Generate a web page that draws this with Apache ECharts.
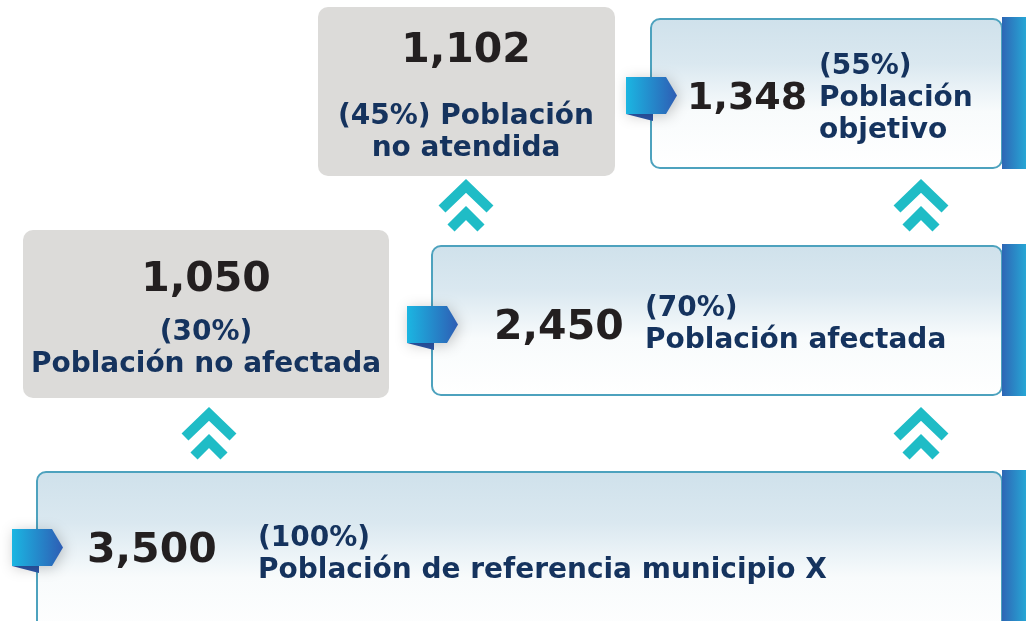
<!DOCTYPE html>
<html>
<head>
<meta charset="utf-8">
<script src="https://cdn.jsdelivr.net/npm/echarts@6/dist/echarts.min.js"></script>
<style>
  html, body { margin: 0; padding: 0; background: #fff; }
  #chart { width: 1026px; height: 621px; }
</style>
</head>
<body>
<div id="chart"></div>
<script>
// data
const groups = ["referencia", "afectada", "noAfectada", "objetivo", "noAtendida"];
const values = [3500, 2450, 1050, 1348, 1102];
const percents = [100, 70, 30, 55, 45];
const labels = [
  "Población de referencia municipio X",
  "Población afectada",
  "Población no afectada",
  "Población objetivo",
  "Población no atendida"
];

// layout for each box (same order as data)
const boxes = [
  { kind: "blue", x: 37, y: 472, w: 965, h: 170, numX: 87, numY: 548, numSize: 41, labX: 258, labY: 555,
    lines: (p, l) => `(${p}%)\n${l}` },
  { kind: "blue", x: 432, y: 246, w: 570, h: 149, numX: 494, numY: 325, numSize: 41, labX: 645, labY: 325,
    lines: (p, l) => `(${p}%)\n${l}` },
  { kind: "gray", x: 23, y: 230, w: 366, h: 168, numX: 206, numY: 277, numSize: 41, labX: 206, labY: 349,
    lines: (p, l) => `(${p}%)\n${l}` },
  { kind: "blue", x: 651, y: 19, w: 351, h: 149, numX: 687, numY: 96, numSize: 38, labX: 819, labY: 99,
    lines: (p, l) => `(${p}%)\n${l.replace(" ", "\n")}` },
  { kind: "gray", x: 318, y: 7, w: 297, h: 169, numX: 466, numY: 48, numSize: 41, labX: 466, labY: 133,
    lines: (p, l) => `(${p}%) ${l.replace(" no ", "\nno ")}` }
];
const chevrons = [[209, 407], [921, 407], [466, 179], [921, 179]];

const FONT = "'DejaVu Sans', 'Open Sans', sans-serif";
const NUM_COLOR = "#231f20";
const LAB_COLOR = "#15335e";
const TEAL = "#1fbcc6";

const fmt = v => v.toLocaleString("en-US");
const elements = [];

function numText(b, v, align) {
  return {
    type: "text",
    style: { text: fmt(v), x: b.numX, y: b.numY + 3, textAlign: align, textVerticalAlign: "middle",
      font: `bold ${b.numSize}px ${FONT}`, fill: NUM_COLOR },
    z: 5
  };
}
function labText(b, p, l, align) {
  return {
    type: "text",
    style: { text: b.lines(p, l), x: b.labX, y: b.labY, textAlign: align, textVerticalAlign: "middle",
      font: `bold 28px ${FONT}`, lineHeight: 32, fill: LAB_COLOR },
    z: 5
  };
}

boxes.forEach((b, i) => {
  if (b.kind === "blue") {
    elements.push({
      type: "rect",
      shape: { x: b.x, y: b.y, width: b.w, height: b.h, r: 9 },
      style: {
        fill: new echarts.graphic.LinearGradient(0, 0, 0, 1, [
          { offset: 0, color: "#cfe1eb" },
          { offset: 0.3, color: "#dae8f0" },
          { offset: 0.62, color: "#f8fbfc" },
          { offset: 1, color: "#ffffff" }
        ]),
        stroke: "#4da2be",
        lineWidth: 2
      },
      z: 1
    });
    // right bar
    elements.push({
      type: "rect",
      shape: { x: b.x + b.w, y: b.y - 2, width: 24, height: Math.min(b.h + 3, 621 - b.y + 2) },
      style: {
        fill: new echarts.graphic.LinearGradient(0, 0, 1, 0, [
          { offset: 0, color: "#2e66b5" },
          { offset: 1, color: "#27a6d5" }
        ])
      },
      z: 2
    });
    // tag
    const tagTop = b.numY - 19;
    elements.push({
      type: "polygon",
      shape: { points: [[b.x - 25, tagTop + 37], [b.x + 2, tagTop + 37], [b.x + 2, tagTop + 44]] },
      style: { fill: "#2c56a8" },
      z: 3
    });
    elements.push({
      type: "polygon",
      shape: { points: [[b.x - 25, tagTop], [b.x + 15, tagTop], [b.x + 26, tagTop + 18.5], [b.x + 15, tagTop + 37], [b.x - 25, tagTop + 37]] },
      style: {
        fill: new echarts.graphic.LinearGradient(0, 0, 1, 0, [
          { offset: 0, color: "#1bb6e2" },
          { offset: 1, color: "#2e5db4" }
        ]),
        shadowBlur: 14,
        shadowColor: "rgba(0,0,0,0.22)",
        shadowOffsetX: 2,
        shadowOffsetY: 2
      },
      z: 4
    });
    elements.push(numText(b, values[i], "left"));
    elements.push(labText(b, percents[i], labels[i], "left"));
  } else {
    elements.push({
      type: "rect",
      shape: { x: b.x, y: b.y, width: b.w, height: b.h, r: 10 },
      style: { fill: "#dcdbd9" },
      z: 1
    });
    elements.push(numText(b, values[i], "center"));
    elements.push(labText(b, percents[i], labels[i], "center"));
  }
});

chevrons.forEach(([cx, y0]) => {
  elements.push({
    type: "polyline",
    shape: { points: [[cx - 24, y0 + 30], [cx, y0 + 7], [cx + 24, y0 + 30]] },
    style: { stroke: TEAL, lineWidth: 10, lineJoin: "miter", lineCap: "butt", fill: null },
    z: 5
  });
  elements.push({
    type: "polyline",
    shape: { points: [[cx - 15, y0 + 49], [cx, y0 + 34], [cx + 15, y0 + 49]] },
    style: { stroke: TEAL, lineWidth: 10, lineJoin: "miter", lineCap: "butt", fill: null },
    z: 5
  });
});

const chart = echarts.init(document.getElementById("chart"));
chart.setOption({
  backgroundColor: "#ffffff",
  animation: false,
  graphic: { elements }
});
</script>
</body>
</html>
